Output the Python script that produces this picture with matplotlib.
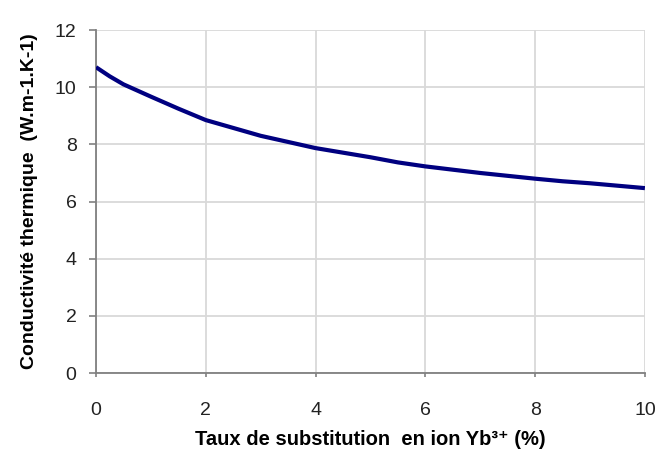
import matplotlib
matplotlib.use('Agg')
from matplotlib import pyplot as plt

taux = [0, 0.25, 0.5, 1, 1.5, 2, 3, 4, 5, 5.5, 6, 7, 8, 8.5, 9, 10]
conductivite = [10.7, 10.38, 10.1, 9.67, 9.25, 8.85, 8.3, 7.87, 7.55, 7.37, 7.23, 7.0, 6.8, 6.71, 6.64, 6.47]
x_ticks = [0, 2, 4, 6, 8, 10]
y_ticks = [0, 2, 4, 6, 8, 10, 12]

plt.rcParams['font.family'] = ['Liberation Sans', 'DejaVu Sans']

fig = plt.figure(figsize=(6.55, 4.55), dpi=100)
ax = fig.add_axes([0.1466, 0.180, 0.838, 0.754])

ax.plot(taux, conductivite, color='#000080', lw=3.0, solid_capstyle='butt',
        solid_joinstyle='round', zorder=3)

ax.set_xlim(0, 10)
ax.set_ylim(0, 12)
ax.set_xticks(x_ticks)
ax.set_yticks(y_ticks)
ax.grid(True, color='#d9d9d9', lw=1.3)
ax.set_axisbelow(True)

for side in ['top', 'right']:
    ax.spines[side].set_visible(False)
for side in ['left', 'bottom']:
    ax.spines[side].set_color('#808080')
    ax.spines[side].set_linewidth(1.3)

ax.tick_params(axis='y', direction='out', length=5, width=1.2, color='#808080',
               labelsize=14, labelcolor='#222222', pad=9)
ax.tick_params(axis='x', direction='out', length=3, width=1.2, color='#808080',
               labelsize=14, labelcolor='#222222', pad=18)

ax.set_xlabel('Taux de substitution  en ion Yb\u00b3\u207a (%)', fontsize=14.5,
              fontweight='bold', labelpad=8)
ax.set_ylabel('Conductivité thermique  (W.m-1.K-1)', fontsize=14,
              fontweight='bold', labelpad=12)

fig.savefig('out.png', dpi=100)
